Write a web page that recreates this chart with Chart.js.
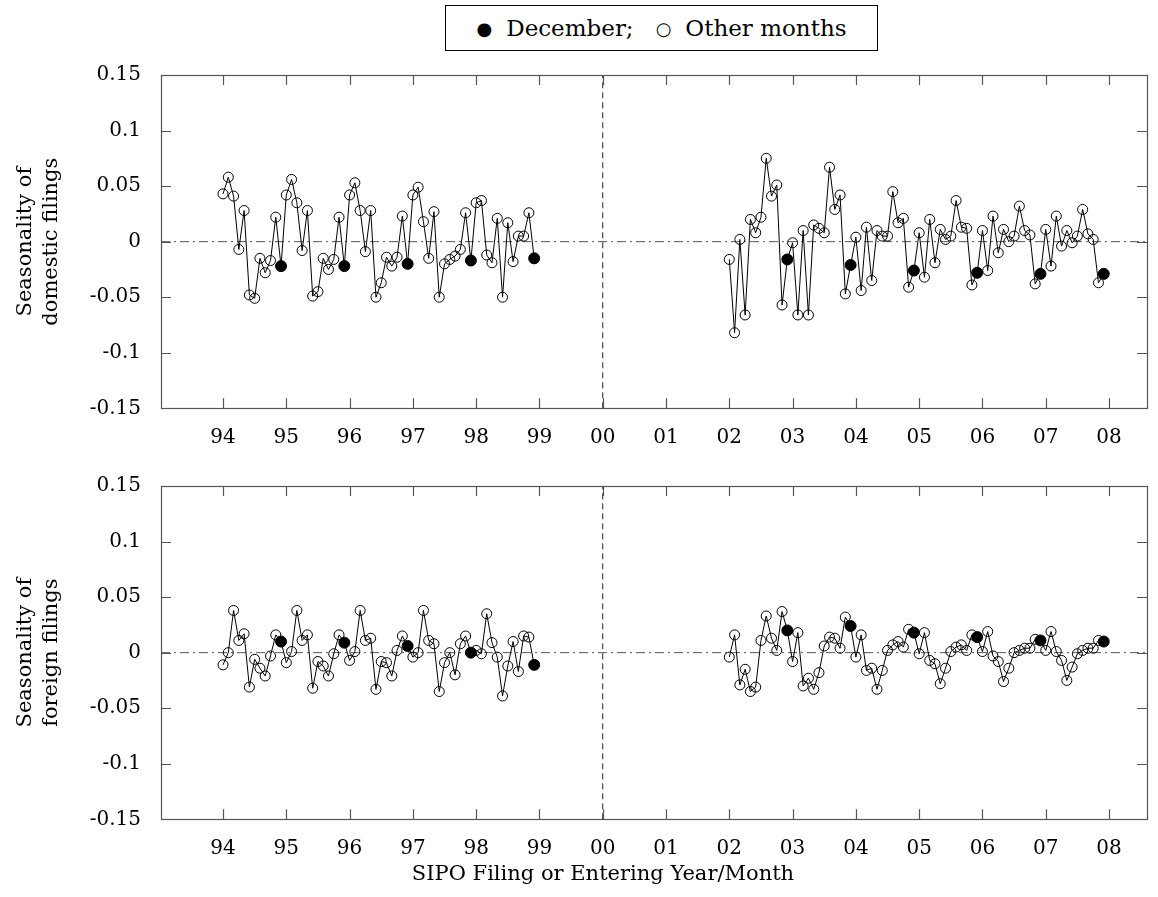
<!DOCTYPE html>
<html>
<head>
<meta charset="utf-8">
<script src="https://cdn.jsdelivr.net/npm/chart.js@4.4.0/dist/chart.umd.min.js"></script>
<style>
    body { margin: 0; background: #fff; width: 1158px; height: 897px; position: relative; overflow: hidden; font-family: 'DejaVu Serif', serif; color: #000; }
    #legend { position: absolute; left: 445px; top: 5px; width: 431px; height: 44px; border: 1px solid #000; display: flex; align-items: center; justify-content: center; font-size: 23px; }
    #legend .sym { font-family: 'DejaVu Sans', sans-serif; font-size: 18px; margin-right: 14px; }
    .panel { position: absolute; left: 0; width: 1158px; }
    #xTitle { position: absolute; left: 303px; width: 600px; top: 861px; text-align: center; font-size: 21px; }
</style>
</head>
<body>
<div id="legend"><span class="sym">●</span><span>December;</span><span class="sym" style="margin-left:22px">○</span><span>Other months</span></div>
<div class="panel" style="top:0;height:450px"><canvas id="domesticChart"></canvas></div>
<div class="panel" style="top:450px;height:447px"><canvas id="foreignChart"></canvas></div>
<div id="xTitle">SIPO Filing or Entering Year/Month</div>
<script>
// monthly seasonality, Jan..Dec of each year
let firstPeriodStart = 1994;   // Jan 1994 - Dec 1998
let secondPeriodStart = 2002;  // Jan 2002 - Dec 2007

let domesticEarly = [
    0.043, 0.058, 0.041, -0.007, 0.028, -0.048, -0.051, -0.015, -0.028, -0.017, 0.022, -0.022,
    0.042, 0.056, 0.035, -0.008, 0.028, -0.049, -0.045, -0.015, -0.025, -0.016, 0.022, -0.022,
    0.042, 0.053, 0.028, -0.009, 0.028, -0.050, -0.037, -0.014, -0.022, -0.014, 0.023, -0.020,
    0.042, 0.049, 0.018, -0.015, 0.027, -0.050, -0.020, -0.016, -0.013, -0.007, 0.026, -0.017,
    0.035, 0.037, -0.012, -0.019, 0.021, -0.050, 0.017, -0.018, 0.005, 0.005, 0.026, -0.015
];
let domesticLate = [
    -0.016, -0.082, 0.002, -0.066, 0.020, 0.008, 0.022, 0.075, 0.041, 0.051, -0.057, -0.016,
    -0.001, -0.066, 0.010, -0.066, 0.015, 0.012, 0.008, 0.067, 0.029, 0.042, -0.047, -0.021,
    0.004, -0.044, 0.013, -0.035, 0.010, 0.005, 0.005, 0.045, 0.017, 0.021, -0.041, -0.026,
    0.008, -0.032, 0.020, -0.019, 0.011, 0.002, 0.005, 0.037, 0.013, 0.012, -0.039, -0.028,
    0.010, -0.026, 0.023, -0.010, 0.011, 0.000, 0.005, 0.032, 0.010, 0.006, -0.038, -0.029,
    0.011, -0.022, 0.023, -0.004, 0.010, -0.001, 0.005, 0.029, 0.007, 0.002, -0.037, -0.029
];
let foreignEarly = [
    -0.011, 0.000, 0.038, 0.011, 0.017, -0.031, -0.006, -0.014, -0.021, -0.003, 0.016, 0.010,
    -0.009, 0.001, 0.038, 0.011, 0.016, -0.032, -0.008, -0.012, -0.021, -0.001, 0.016, 0.009,
    -0.007, 0.001, 0.038, 0.011, 0.013, -0.033, -0.008, -0.009, -0.021, 0.002, 0.015, 0.006,
    -0.004, 0.000, 0.038, 0.011, 0.008, -0.035, -0.009, 0.000, -0.020, 0.008, 0.015, 0.000,
    0.002, -0.001, 0.035, 0.009, -0.004, -0.039, -0.012, 0.010, -0.017, 0.015, 0.014, -0.011
];
let foreignLate = [
    -0.004, 0.016, -0.029, -0.015, -0.035, -0.031, 0.011, 0.033, 0.013, 0.002, 0.037, 0.020,
    -0.008, 0.018, -0.030, -0.023, -0.033, -0.018, 0.006, 0.014, 0.013, 0.004, 0.032, 0.024,
    -0.004, 0.016, -0.016, -0.014, -0.033, -0.016, 0.002, 0.007, 0.010, 0.005, 0.021, 0.018,
    -0.001, 0.018, -0.007, -0.010, -0.028, -0.014, 0.001, 0.005, 0.007, 0.002, 0.016, 0.014,
    0.001, 0.019, -0.003, -0.008, -0.026, -0.014, 0.000, 0.002, 0.004, 0.004, 0.012, 0.011,
    0.002, 0.019, 0.001, -0.007, -0.025, -0.013, -0.001, 0.002, 0.004, 0.004, 0.011, 0.010
];

let yearTicks = [1994, 1995, 1996, 1997, 1998, 1999, 2000, 2001, 2002, 2003, 2004, 2005, 2006, 2007, 2008];
let yearLabels = ['94', '95', '96', '97', '98', '99', '00', '01', '02', '03', '04', '05', '06', '07', '08'];
let yTicks = [-0.15, -0.1, -0.05, 0, 0.05, 0.1, 0.15];
let yLabels = ['-0.15', '-0.1', '-0.05', '0', '0.05', '0.1', '0.15'];
let xMin = 1993.02;
let xMax = 2008.6;
let breakYear = 2000;

const FONT = "'DejaVu Serif', serif";

toPoints = (values, startYear) => values.map((v, i) => ({
    x: startYear + Math.floor(i / 12) + (i % 12) / 12,
    y: v
}));

seriesDataset = (values, startYear) => ({
    data: toPoints(values, startYear),
    borderColor: '#000',
    borderWidth: 1,
    pointBorderColor: '#000',
    pointBorderWidth: 1,
    pointBackgroundColor: values.map((v, i) => i % 12 === 11 ? '#000' : 'rgba(0,0,0,0)'),
    pointRadius: values.map((v, i) => i % 12 === 11 ? 5.5 : 5),
    tension: 0,
    order: 1
});

// inward tick marks on all four sides plus frame
const framePlugin = {
    id: 'frame',
    afterDraw(chart) {
        const { ctx, chartArea: a, scales: { x, y } } = chart;
        ctx.save();
        ctx.strokeStyle = '#555';
        ctx.lineWidth = 1.2;
        ctx.beginPath();
        yearTicks.forEach(v => {
            let px = Math.round(x.getPixelForValue(v)) + 0.5;
            ctx.moveTo(px, a.bottom); ctx.lineTo(px, a.bottom - 10);
            ctx.moveTo(px, a.top); ctx.lineTo(px, a.top + 10);
        });
        yTicks.forEach(v => {
            let py = Math.round(y.getPixelForValue(v)) + 0.5;
            ctx.moveTo(a.left, py); ctx.lineTo(a.left + 10, py);
            ctx.moveTo(a.right, py); ctx.lineTo(a.right - 10, py);
        });
        ctx.stroke();
        ctx.strokeRect(Math.round(a.left) + 0.5, Math.round(a.top) + 0.5, Math.round(a.right - a.left), Math.round(a.bottom - a.top));
        ctx.restore();
    }
};

makeChart = (canvasId, early, late, padTop, xHeight, titleLines) => {
    let ctx = document.getElementById(canvasId).getContext('2d');
    return new Chart(ctx, {
        type: 'line',
        data: {
            datasets: [
                seriesDataset(early, firstPeriodStart),
                seriesDataset(late, secondPeriodStart),
                {
                    data: [{ x: xMin, y: 0 }, { x: xMax, y: 0 }],
                    borderColor: '#555',
                    borderWidth: 1,
                    borderDash: [9, 4, 2, 4],
                    pointRadius: 0,
                    order: 3
                },
                {
                    data: [{ x: breakYear, y: -0.15 }, { x: breakYear, y: 0.15 }],
                    borderColor: '#222',
                    borderWidth: 1,
                    borderDash: [6, 4],
                    pointRadius: 0,
                    order: 3
                }
            ]
        },
        options: {
            responsive: true,
            maintainAspectRatio: false,
            animation: false,
            layout: { padding: { top: padTop, right: 11, left: 0, bottom: 0 } },
            plugins: {
                legend: { display: false },
                tooltip: { enabled: false }
            },
            scales: {
                x: {
                    type: 'linear',
                    min: xMin,
                    max: xMax,
                    grid: { display: false },
                    border: { display: false },
                    afterBuildTicks: (axis) => { axis.ticks = yearTicks.map(v => ({ value: v })); },
                    afterFit: (scale) => { scale.height = xHeight; },
                    ticks: {
                        autoSkip: false,
                        maxRotation: 0,
                        padding: 9,
                        color: '#000',
                        font: { family: FONT, size: 20 },
                        callback: (v) => yearLabels[yearTicks.indexOf(v)]
                    }
                },
                y: {
                    min: -0.15,
                    max: 0.15,
                    grid: { display: false },
                    border: { display: false },
                    afterBuildTicks: (axis) => { axis.ticks = yTicks.map(v => ({ value: v })); },
                    afterFit: (scale) => { scale.width = 161; },
                    ticks: {
                        padding: 12,
                        color: '#000',
                        font: { family: FONT, size: 20 },
                        callback: (v, i) => yLabels[i]
                    },
                    title: {
                        display: true,
                        text: titleLines,
                        color: '#000',
                        font: { family: FONT, size: 21, lineHeight: 1.25 },
                        padding: { top: 12, bottom: 0 }
                    }
                }
            }
        },
        plugins: [framePlugin]
    });
}

let domesticChart = makeChart('domesticChart', domesticEarly, domesticLate, 75, 41.7, ['Seasonality of', 'domestic filings']);
let foreignChart = makeChart('foreignChart', foreignEarly, foreignLate, 36, 77.7, ['Seasonality of', 'foreign filings']);
</script>
</body>
</html>
